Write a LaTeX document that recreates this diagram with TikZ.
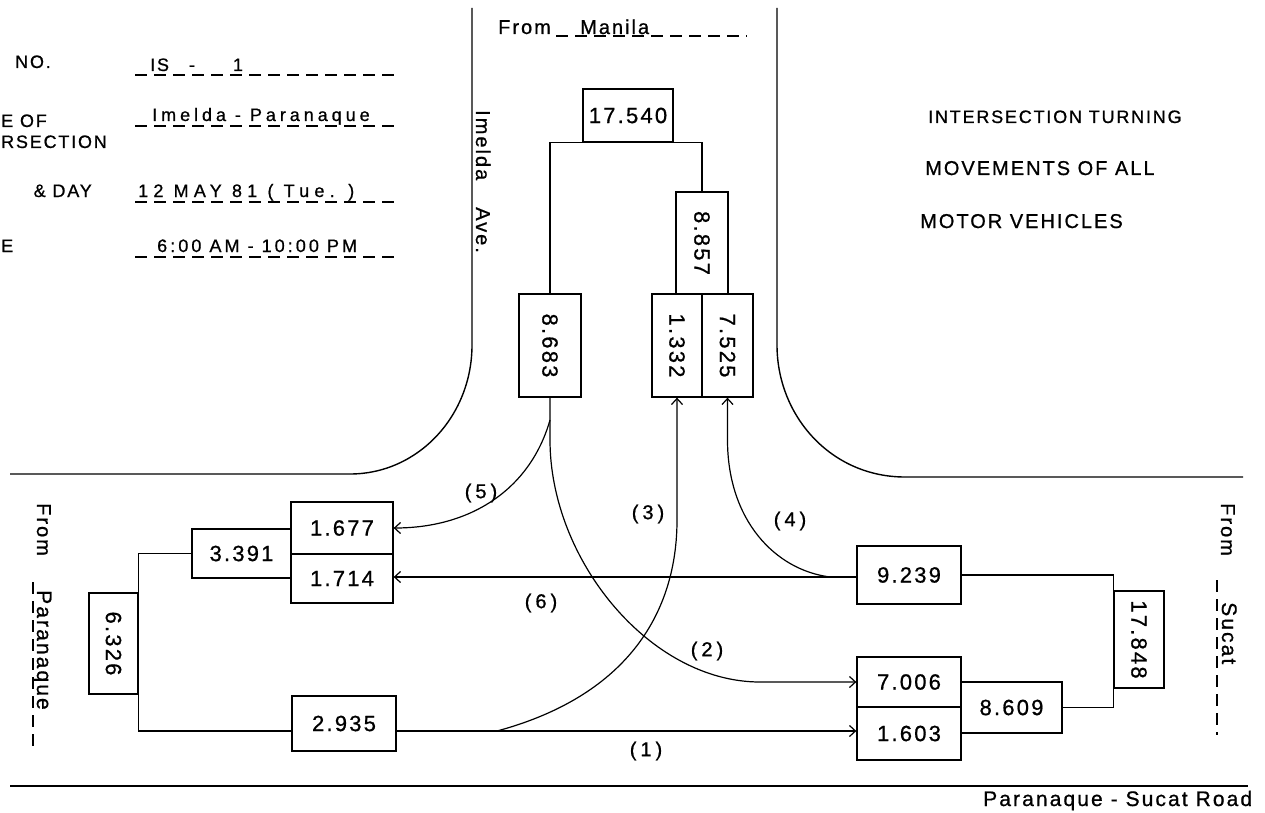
\documentclass[tikz,border=0pt]{standalone}
\usepackage{fontspec}
\setmainfont{Liberation Sans}[LetterSpace=10,FakeBold=0.8]
\newfontfamily\fA{Liberation Sans}[LetterSpace=10,FakeBold=0.8]
\newfontfamily\fB{Liberation Sans}[LetterSpace=20,FakeBold=0.8]
\newfontfamily\fH{Liberation Sans}[LetterSpace=22,FakeBold=0.8]
\newfontfamily\fD{Liberation Sans}[LetterSpace=29,FakeBold=0.8]
\newfontfamily\fT{Liberation Sans}[LetterSpace=17,FakeBold=0.8]
\usetikzlibrary{arrows.meta}
\begin{document}
\begin{tikzpicture}[x=1pt,y=-1pt,
  road/.style={line width=1.4pt},
  link/.style={line width=1.2pt},
  arr/.style={line width=1.2pt,-{Straight Barb[length=6pt,width=11pt]}},
  box/.style={draw,line width=1.3pt,inner sep=0pt,font={\fA\fontsize{22}{24}\selectfont}},
  lbl/.style={inner sep=0pt,font={\fB\fontsize{20}{22}\selectfont}},
  uline/.style={line width=1.2pt,dash pattern=on 12pt off 7pt},
  hdr/.style={inner sep=0pt,font={\fA\fontsize{18}{20}\selectfont}},
  hdrA/.style={inner sep=0pt,font={\fH\fontsize{18}{20}\selectfont}},
  hdrB/.style={inner sep=0pt,font={\fD\fontsize{18}{20}\selectfont}},
  hdrC/.style={inner sep=0pt,font={\fT\fontsize{18}{20}\selectfont}},
  ttl/.style={inner sep=0pt,font={\fA\fontsize{20}{22}\selectfont}},
  rdname/.style={inner sep=0pt,font={\fA\fontsize{20}{22}\selectfont}},
]
\fill[white] (0,0) rectangle (1265,813);
\useasboundingbox (0,0) rectangle (1265,813);

% road edges
\draw[road] (472,8) -- (472,345) .. controls (472,416) and (418,474) .. (350,474) -- (10,474);
\draw[road] (777,8) -- (777,345) .. controls (777,416) and (831,477) .. (905,477) -- (1243,477);
\draw[road] (10,786) -- (1248,786);

% header block
\node[hdr, anchor=base west] (hNO) at (15,68) {NO.};
\node[hdr, anchor=base west] (hIS) at (150,71) {IS\hspace{20pt}-\hspace{38pt}1};
\draw[uline] (135,75) -- (395,75);
\node[hdr, anchor=base west] (hE1) at (1,127) {E OF};
\node[hdr, anchor=base west] (hE2) at (1,148) {RSECTION};
\node[hdrA, anchor=base west] (hImP) at (152,121) {Imelda - Paranaque};
\draw[uline] (135,126) -- (395,126);
\node[hdr, anchor=base east] (hE3) at (92,197) {\& DAY};
\node[hdrB, anchor=base west] (hDay) at (138,197) {12 MAY 81 ( Tue. )};
\draw[uline] (135,202) -- (395,202);
\node[hdr, anchor=base west] (hE4) at (1,252) {E};
\node[hdrC, anchor=base west] (hTime) at (157,252) {6:00 AM - 10:00 PM};
\draw[uline] (135,257) -- (395,257);

% title
\node[ttl, anchor=base west, font={\fA\fontsize{18}{20}\selectfont}] (t1) at (928,123) {INTERSECTION TURNING};
\node[ttl, anchor=base west] (t2) at (925,175) {MOVEMENTS OF ALL};
\node[ttl, anchor=base west] (t3) at (920,228) {MOTOR VEHICLES};

% road names
\node[rdname, anchor=base west] (fromM) at (498,34) {From};
\node[rdname, anchor=base west] (manila) at (580,34) {Manila};
\draw[uline] (556,36) -- (747,36);
\node[rdname, rotate=-90, anchor=base west] (imelda) at (476,110) {Imelda\hspace{27pt}Ave.};
\node[rdname, rotate=-90, anchor=base west] (fromP) at (37,503) {From};
\node[rdname, rotate=-90, anchor=base west, font={\fA\fontsize{21}{23}\selectfont}] (paran) at (37,590) {Paranaque};
\draw[uline] (33,582) -- (33,750);
\node[rdname, rotate=-90, anchor=base west] (fromS) at (1221,503) {From};
\node[rdname, rotate=-90, anchor=base west, font={\fA\fontsize{21}{23}\selectfont}] (sucat) at (1222,602) {Sucat};
\draw[uline] (1217,580) -- (1217,735);
\node[rdname, anchor=base west, font={\fA\fontsize{21}{23}\selectfont}] (psroad) at (983,806) {Paranaque - Sucat Road};

% boxes
\node[box, minimum width=90pt, minimum height=53pt] (b17540) at (628,115.5) {17.540};
\node[box, minimum width=52pt, minimum height=102pt] (b8857) at (702,243) {\rotatebox{-90}{8.857}};
\node[box, minimum width=50pt, minimum height=103pt] (b1332) at (677,345.5) {\rotatebox{-90}{1.332}};
\node[box, minimum width=51pt, minimum height=103pt] (b7525) at (727.5,345.5) {\rotatebox{-90}{7.525}};
\node[box, minimum width=62pt, minimum height=103pt] (b8683) at (550,345.5) {\rotatebox{-90}{8.683}};
\node[box, minimum width=102pt, minimum height=52pt] (b1677) at (342,528) {1.677};
\node[box, minimum width=102pt, minimum height=49pt] (b1714) at (342,578.5) {1.714};
\node[box, minimum width=99pt, minimum height=49pt] (b3391) at (241.5,553.5) {3.391};
\node[box, minimum width=49pt, minimum height=101pt] (b6326) at (113.5,643.5) {\rotatebox{-90}{6.326}};
\node[box, minimum width=104pt, minimum height=55pt] (b2935) at (344,723.5) {2.935};
\node[box, minimum width=104pt, minimum height=58pt] (b9239) at (909,575) {9.239};
\node[box, minimum width=50pt, minimum height=97pt] (b17848) at (1139,639.5) {\rotatebox{-90}{17.848}};
\node[box, minimum width=104pt, minimum height=50pt] (b7006) at (909,682) {7.006};
\node[box, minimum width=104pt, minimum height=53pt] (b1603) at (909,733.5) {1.603};
\node[box, minimum width=101pt, minimum height=51pt] (b8609) at (1011.5,707.5) {8.609};

% splitting links
\draw[link] (b8683.north) |- (b8857.north |- b17540.south) -- (b8857.north);
\coordinate (r1) at (0,731);
\draw[link] (b3391.west) -| (b6326.north east) -- (b6326.south east) |- (b2935.west |- r1);
\draw[link] (b9239.east) -| (b17848.west) |- (b8609.east);

% movements
\coordinate (c5) at (550,420);
\coordinate (c3) at (497,731);
\coordinate (c4) at (830,577);
\draw[arr] (b2935.east |- c3) -- (b1603.west |- c3);
\draw[arr] (b8683.south) -- (550,440) .. controls (550,560) and (650,682) .. (760,682) -- (b7006.west);
\draw[arr] (c3) .. controls (630,695) and (677,610) .. (677,520) -- (b1332.south);
\draw[arr] (c4) .. controls (775,570) and (727.5,520) .. (727.5,440) -- (b7525.south);
\draw[arr] (c5) .. controls (530,490) and (470,528) .. (b1677.east);
\draw[arr] (b9239.west |- c4) -- (b1714.east |- c4);

% labels
\node[lbl] (l1) at (646,751) {(1)};
\node[lbl] (l2) at (707,651) {(2)};
\node[lbl] (l3) at (648,514) {(3)};
\node[lbl] (l4) at (790,521) {(4)};
\node[lbl] (l5) at (481,493) {(5)};
\node[lbl] (l6) at (541,603) {(6)};
\end{tikzpicture}
\end{document}
